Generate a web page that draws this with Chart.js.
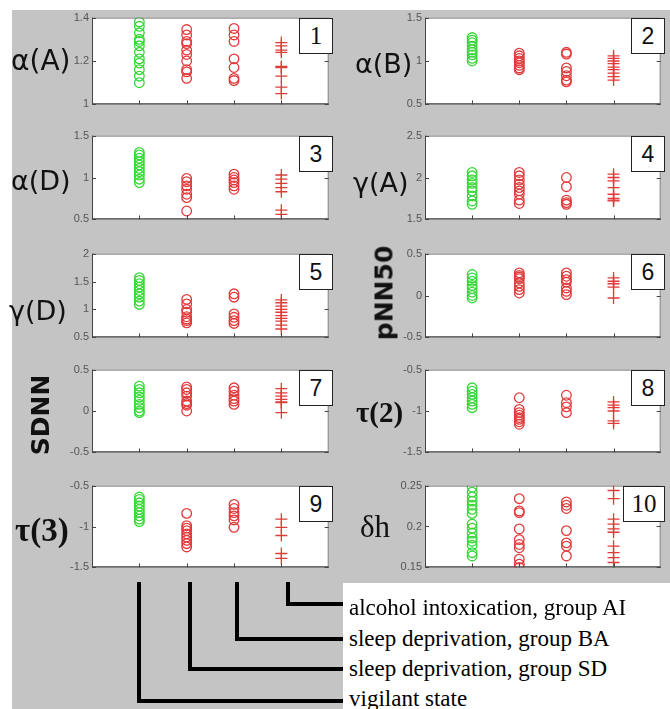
<!DOCTYPE html>
<html>
<head>
<meta charset="utf-8">
<script src="https://cdn.jsdelivr.net/npm/chart.js@4.4.1/dist/chart.umd.min.js"></script>
<style>
    body { margin: 0; background: #fff; }
    #page { position: relative; width: 670px; height: 709px; overflow: hidden; background: #fff; }
    #bg { position: absolute; left: 12px; top: 10px; right: 0; bottom: 0; background: #c4c4c4; }
    canvas { position: absolute; }
    .ylab { position: absolute; color: #111; white-space: nowrap; line-height: 1; }
    .num { position: absolute; background: #fff; border: 1px solid #222; box-sizing: border-box;
           color: #111; text-align: center; }
    .bar { position: absolute; background: #000; }
    #legendBox { position: absolute; left: 343px; top: 583px; right: 0; bottom: 0; background: #fff; }
    .gname { position: absolute; left: 349px; font-family: "Liberation Serif", serif; font-size: 23px;
             line-height: 23px; color: #000; white-space: nowrap; }
</style>
</head>
<body>
<div id="page"><div id="bg"></div><div id="legendBox"></div></div>
<script>
// groups on the x axis (1..4)
const groupNames = ['vigilant state', 'sleep deprivation, group SD',
                    'sleep deprivation, group BA', 'alcohol intoxication, group AI'];
const panelLabels = ['α(A)', 'α(B)', 'α(D)', 'γ(A)', 'γ(D)', 'pNN50', 'SDNN', 'τ(2)', 'τ(3)', 'δh'];

// values per group: [vigilant, SD, BA, AI]
const alphaA = [
    [1.38, 1.36, 1.33, 1.30, 1.29, 1.27, 1.24, 1.21, 1.19, 1.16, 1.13, 1.10],
    [1.345, 1.32, 1.29, 1.28, 1.25, 1.23, 1.20, 1.16, 1.15, 1.12],
    [1.35, 1.32, 1.29, 1.21, 1.17, 1.12, 1.11],
    [1.285, 1.27, 1.25, 1.24, 1.175, 1.17, 1.13, 1.08, 1.05]
];
const alphaB = [
    [1.27, 1.24, 1.21, 1.17, 1.13, 1.10, 1.07, 1.03, 1.00],
    [1.09, 1.06, 1.03, 1.00, 0.98, 0.95, 0.92, 0.90],
    [1.10, 1.08, 0.92, 0.88, 0.83, 0.78, 0.76],
    [1.06, 1.03, 1.00, 0.97, 0.93, 0.90, 0.86, 0.82, 0.78]
];
const alphaD = [
    [1.30, 1.27, 1.23, 1.19, 1.15, 1.11, 1.07, 1.03, 0.98, 0.94],
    [0.99, 0.95, 0.90, 0.86, 0.80, 0.76, 0.60],
    [1.04, 1.00, 0.97, 0.94, 0.90, 0.86],
    [1.03, 0.98, 0.93, 0.88, 0.83, 0.61, 0.56]
];
const gammaA = [
    [2.06, 2.02, 1.97, 1.93, 1.88, 1.84, 1.78, 1.72, 1.68],
    [2.06, 2.02, 1.97, 1.92, 1.88, 1.84, 1.80, 1.73, 1.69],
    [2.00, 1.89, 1.73, 1.70, 1.68],
    [2.04, 2.00, 1.96, 1.88, 1.80, 1.75, 1.73, 1.72]
];
const gammaD = [
    [1.57, 1.52, 1.46, 1.40, 1.34, 1.28, 1.22, 1.15, 1.09],
    [1.18, 1.10, 1.00, 0.95, 0.87, 0.83, 0.80, 0.76],
    [1.28, 1.22, 0.92, 0.86, 0.80, 0.75],
    [1.17, 1.12, 1.06, 1.00, 0.95, 0.89, 0.84, 0.79, 0.72, 0.65]
];
const pnn50 = [
    [0.25, 0.21, 0.17, 0.12, 0.08, 0.04, 0.00, -0.03],
    [0.27, 0.24, 0.22, 0.20, 0.15, 0.11, 0.07, 0.03],
    [0.27, 0.23, 0.19, 0.16, 0.09, 0.05, 0.01],
    [0.21, 0.17, 0.14, 0.10, -0.03]
];
const sdnn = [
    [0.30, 0.26, 0.22, 0.17, 0.13, 0.08, 0.04, 0.00, -0.02],
    [0.29, 0.26, 0.22, 0.18, 0.12, 0.09, 0.07, 0.00],
    [0.28, 0.24, 0.19, 0.15, 0.12, 0.08],
    [0.27, 0.22, 0.18, 0.14, 0.11, 0.10, -0.02]
];
const tau2 = [
    [-0.72, -0.76, -0.80, -0.84, -0.88, -0.92, -0.96],
    [-0.84, -0.98, -1.02, -1.05, -1.08, -1.10, -1.13, -1.16],
    [-0.81, -0.90, -0.95, -1.02],
    [-0.89, -0.93, -0.96, -1.00, -1.12, -1.15]
];
const tau3 = [
    [-0.64, -0.67, -0.71, -0.75, -0.79, -0.83, -0.87, -0.91, -0.94],
    [-0.84, -0.99, -1.02, -1.05, -1.09, -1.13, -1.17, -1.21, -1.25],
    [-0.73, -0.78, -0.83, -0.87, -0.92, -1.01],
    [-0.91, -1.01, -1.11, -1.33, -1.39]
];
const deltaH = [
    [0.248, 0.242, 0.236, 0.231, 0.226, 0.221, 0.216, 0.203, 0.198, 0.192, 0.186, 0.182, 0.177, 0.168, 0.164],
    [0.234, 0.219, 0.217, 0.197, 0.184, 0.178, 0.174, 0.160, 0.154, 0.150],
    [0.230, 0.226, 0.222, 0.195, 0.180, 0.176, 0.164],
    [0.244, 0.234, 0.209, 0.203, 0.197, 0.193, 0.176, 0.168, 0.162, 0.156]
];
const panels = [alphaA, alphaB, alphaD, gammaA, gammaD, pnn50, sdnn, tau2, tau3, deltaH];

const yTicks = [
    [1, 1.2, 1.4], [0.5, 1, 1.5], [0.5, 1, 1.5], [1.5, 2, 2.5], [0.5, 1, 1.5, 2],
    [-0.5, 0, 0.5], [-0.5, 0, 0.5], [-1.5, -1, -0.5], [-1.5, -1, -0.5], [0.15, 0.2, 0.25]
];

// ---- layout (pixels) ----
const colLeft = [92, 425], colRight = [333, 665];
const rowTop = [16, 134, 252, 368, 484], rowBottom = [106, 221, 339, 454, 569];
const labelStyle = [
    { x: 11, y: 60, font: '28px "DejaVu Sans"' },
    { x: 355, y: 63, font: '27px "DejaVu Sans"' },
    { x: 11, y: 180, font: '27px "DejaVu Sans"' },
    { x: 353, y: 182, font: '27px "DejaVu Sans"' },
    { x: 9, y: 310, font: '27px "DejaVu Sans"' },
    { x: 384, y: 293, font: 'bold 25px "DejaVu Sans"', rot: true },
    { x: 40, y: 415, font: 'bold 25px "DejaVu Sans"', rot: true },
    { x: 356, y: 412, font: 'bold 29px "Liberation Serif"' },
    { x: 15, y: 530, font: 'bold 33px "Liberation Serif"' },
    { x: 360, y: 527, font: '31px "Liberation Serif"' }
];

const frame = {
    id: 'frame',
    beforeDraw(chart) {
        const { ctx, chartArea: a } = chart;
        ctx.save();
        ctx.fillStyle = '#fff';
        ctx.fillRect(a.left, a.top, a.right - a.left, a.bottom - a.top);
        ctx.restore();
    },
    afterDraw(chart) {
        const { ctx, chartArea: a, scales } = chart;
        ctx.save();
        ctx.strokeStyle = '#777';
        ctx.lineWidth = 1;
        ctx.strokeRect(a.left + 0.5, a.top + 0.5, a.right - a.left - 1, a.bottom - a.top - 1);
        ctx.strokeStyle = '#444';
        ctx.beginPath();
        ctx.moveTo(a.left + 0.5, a.top);
        ctx.lineTo(a.left + 0.5, a.bottom - 0.5);
        ctx.lineTo(a.right, a.bottom - 0.5);
        [1, 2, 3, 4].forEach(v => {
            const px = Math.round(scales.x.getPixelForValue(v)) + 0.5;
            ctx.moveTo(px, a.bottom);
            ctx.lineTo(px, a.bottom - 4);
        });
        scales.y.ticks.forEach(t => {
            const py = Math.round(scales.y.getPixelForValue(t.value)) + 0.5;
            ctx.moveTo(a.left, py);
            ctx.lineTo(a.left + 4, py);
            ctx.moveTo(a.right, py);
            ctx.lineTo(a.right - 4, py);
        });
        ctx.stroke();
        ctx.restore();
    }
};

const page = document.getElementById('page');
const Y_W = 36, PAD = 8;

panels.forEach((values, i) => {
    const col = i % 2, row = Math.floor(i / 2);
    const left = colLeft[col], right = colRight[col];
    const top = rowTop[row], bottom = rowBottom[row];

    const canvas = document.createElement('canvas');
    canvas.width = right - left + Y_W + 3;
    canvas.height = bottom - top + PAD * 2;
    canvas.style.left = (left - Y_W) + 'px';
    canvas.style.top = (top - PAD) + 'px';
    page.appendChild(canvas);

    const ticks = yTicks[i];
    new Chart(canvas.getContext('2d'), {
        type: 'scatter',
        data: {
            datasets: values.map((vals, g) => ({
                label: groupNames[g],
                data: vals.map(v => ({ x: g + 1, y: v })),
                pointStyle: g === 3 ? 'cross' : 'circle',
                pointRadius: g === 3 ? 6 : 4.8,
                borderWidth: 1.3,
                borderColor: g === 0 ? '#36d836' : '#e23a3a',
                backgroundColor: 'rgba(0,0,0,0)'
            }))
        },
        options: {
            responsive: false,
            animation: false,
            events: [],
            layout: { padding: { left: 0, right: 3, top: PAD, bottom: PAD } },
            plugins: { legend: { display: false }, tooltip: { enabled: false } },
            scales: {
                x: { type: 'linear', min: 0, max: 5, display: false },
                y: {
                    min: ticks[0],
                    max: ticks[ticks.length - 1],
                    afterBuildTicks: scale => { scale.ticks = ticks.map(v => ({ value: v })); },
                    afterFit: scale => { scale.width = Y_W; },
                    grid: { display: false, drawTicks: false },
                    border: { display: false },
                    ticks: {
                        padding: 3,
                        color: '#555',
                        font: { family: 'Liberation Sans', size: 11 },
                        callback: v => String(v)
                    }
                }
            }
        },
        plugins: [frame]
    });

    // y label
    const ls = labelStyle[i];
    const lab = document.createElement('div');
    lab.className = 'ylab';
    lab.textContent = panelLabels[i];
    lab.style.font = ls.font;
    lab.style.left = ls.x + 'px';
    lab.style.top = ls.y + 'px';
    lab.style.transform = ls.rot ? 'translate(-50%,-50%) rotate(-90deg)' : 'translateY(-50%)';
    page.appendChild(lab);

    // panel number box
    const box = document.createElement('div');
    box.className = 'num';
    const bw = i === 9 ? 42 : 34;
    box.style.left = (right - bw) + 'px';
    box.style.top = (top + 2) + 'px';
    box.style.width = bw + 'px';
    box.style.height = '36px';
    box.style.font = (i === 0 || i === 9) ? '25px "Liberation Serif"' : '23px "Liberation Sans"';
    box.style.lineHeight = '34px';
    box.textContent = String(i + 1);
    page.appendChild(box);
});

// bracket legend under the left column
const barX = [139, 190, 237, 288];
const barEndY = [701, 669, 639, 604];
const nameBase = [706, 676, 646, 615];
groupNames.forEach((name, g) => {
    const v = document.createElement('div');
    v.className = 'bar';
    v.style.left = (barX[g] - 2) + 'px';
    v.style.top = '582px';
    v.style.width = '4px';
    v.style.height = (barEndY[g] + 2 - 582) + 'px';
    page.appendChild(v);

    const h = document.createElement('div');
    h.className = 'bar';
    h.style.left = (barX[g] - 2) + 'px';
    h.style.top = (barEndY[g] - 2) + 'px';
    h.style.width = (343 - barX[g] + 2) + 'px';
    h.style.height = '4px';
    page.appendChild(h);

    const t = document.createElement('div');
    t.className = 'gname';
    t.textContent = name;
    t.style.top = (nameBase[g] - 19) + 'px';
    page.appendChild(t);
});
</script>
</body>
</html>
